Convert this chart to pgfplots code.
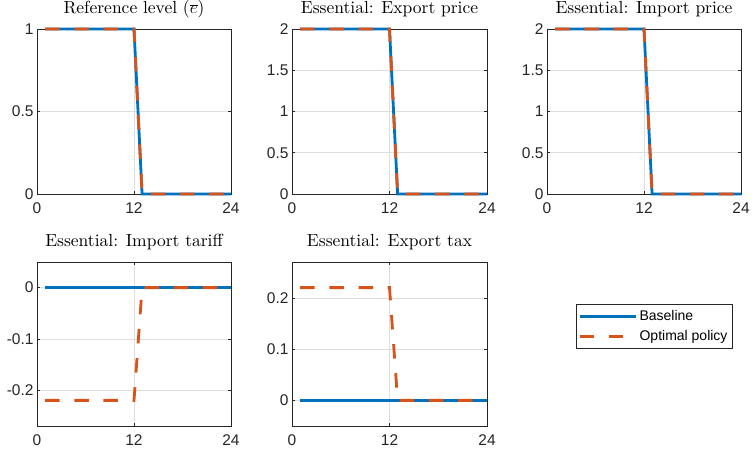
\documentclass[border=0pt]{standalone}
\usepackage{pgfplots}
\pgfplotsset{compat=1.18}
\usepackage{fontspec}
\newfontfamily\arial{Liberation Sans}
\newfontfamily\titlefont{lmroman10-regular}[Extension=.otf]
\definecolor{mblue}{RGB}{0,114,189}
\definecolor{morange}{RGB}{217,83,25}
\definecolor{maxis}{RGB}{38,38,38}
\pgfplotsset{
  mystyle/.style={
    scale only axis, width=194pt, height=165pt, anchor=south west,
    xmin=0, xmax=24, xtick={0,12,24},
    grid=major, major grid style={color=black!13, line width=0.6pt},
    axis line style={color=maxis, line width=0.7pt},
    tick style={color=maxis, line width=0.7pt},
    major tick length=3pt, tick align=inside,
    tick label style={font=\arial\fontsize{15.5}{15.5}\selectfont, color=maxis},
    xticklabel style={yshift=-5pt},
    /pgf/number format/assume math mode=true,
    title style={font=\titlefont\fontsize{17.5}{17.5}\selectfont, at={(0.5,1)}, anchor=base, yshift=9pt},
    clip=false,
    legend image code/.code={\draw[#1] (0pt,0pt) -- (56pt,0pt);},
  },
  base/.style={mblue, line width=2.8pt},
  opt/.style={morange, line width=2.8pt, dash pattern=on 14.5pt off 14.7pt},
}
\begin{document}
\begin{tikzpicture}[x=1pt,y=1pt]
\useasboundingbox (0,0) rectangle (752,450);
% Top left
\begin{axis}[mystyle, at={(37pt,256pt)}, ymin=0, ymax=1, ytick={0,0.5,1},
  title={Reference level ($\overline{e}$)}]
\addplot[base] coordinates {(1,1)(2,1)(3,1)(4,1)(5,1)(6,1)(7,1)(8,1)(9,1)(10,1)(11,1)(12,1)(13,0)(14,0)(15,0)(16,0)(17,0)(18,0)(19,0)(20,0)(21,0)(22,0)(23,0)(24,0)};
\addplot[opt] coordinates {(1,1)(2,1)(3,1)(4,1)(5,1)(6,1)(7,1)(8,1)(9,1)(10,1)(11,1)(12,1)(13,0)(14,0)(15,0)(16,0)(17,0)(18,0)(19,0)(20,0)(21,0)(22,0)(23,0)(24,0)};
\end{axis}
% Top middle
\begin{axis}[mystyle, at={(292pt,256pt)}, width=195pt, ymin=0, ymax=2, ytick={0,0.5,1,1.5,2},
  title={Essential: Export price}]
\addplot[base] coordinates {(1,2)(2,2)(3,2)(4,2)(5,2)(6,2)(7,2)(8,2)(9,2)(10,2)(11,2)(12,2)(13,0)(14,0)(15,0)(16,0)(17,0)(18,0)(19,0)(20,0)(21,0)(22,0)(23,0)(24,0)};
\addplot[opt] coordinates {(1,2)(2,2)(3,2)(4,2)(5,2)(6,2)(7,2)(8,2)(9,2)(10,2)(11,2)(12,2)(13,0)(14,0)(15,0)(16,0)(17,0)(18,0)(19,0)(20,0)(21,0)(22,0)(23,0)(24,0)};
\end{axis}
% Top right
\begin{axis}[mystyle, at={(547pt,256pt)}, ymin=0, ymax=2, ytick={0,0.5,1,1.5,2},
  title={Essential: Import price}]
\addplot[base] coordinates {(1,2)(2,2)(3,2)(4,2)(5,2)(6,2)(7,2)(8,2)(9,2)(10,2)(11,2)(12,2)(13,0)(14,0)(15,0)(16,0)(17,0)(18,0)(19,0)(20,0)(21,0)(22,0)(23,0)(24,0)};
\addplot[opt] coordinates {(1,2)(2,2)(3,2)(4,2)(5,2)(6,2)(7,2)(8,2)(9,2)(10,2)(11,2)(12,2)(13,0)(14,0)(15,0)(16,0)(17,0)(18,0)(19,0)(20,0)(21,0)(22,0)(23,0)(24,0)};
\end{axis}
% Bottom left
\begin{axis}[mystyle, at={(37pt,24pt)}, height=164pt, ymin=-0.27, ymax=0.05, ytick={-0.2,-0.1,0},
  title={Essential: Import tariff}]
\addplot[base] coordinates {(1,0)(2,0)(3,0)(4,0)(5,0)(6,0)(7,0)(8,0)(9,0)(10,0)(11,0)(12,0)(13,0)(14,0)(15,0)(16,0)(17,0)(18,0)(19,0)(20,0)(21,0)(22,0)(23,0)(24,0)};
\addplot[opt] coordinates {(1,-0.22)(2,-0.22)(3,-0.22)(4,-0.22)(5,-0.22)(6,-0.22)(7,-0.22)(8,-0.22)(9,-0.22)(10,-0.22)(11,-0.22)(12,-0.22)(13,0)(14,0)(15,0)(16,0)(17,0)(18,0)(19,0)(20,0)(21,0)(22,0)(23,0)(24,0)};
\end{axis}
% Bottom middle
\begin{axis}[mystyle, at={(292pt,24pt)}, width=195pt, height=164pt, ymin=-0.05, ymax=0.27, ytick={0,0.1,0.2},
  title={Essential: Export tax},
  legend style={at={(1.456,0.744)}, anchor=north west, draw=maxis, line width=0.7pt, fill=white,
    font=\arial\fontsize{14}{14}\selectfont, inner xsep=2pt, inner ysep=4pt, row sep=3pt,
    nodes={inner sep=2.5pt}},
  legend cell align=left]
\addplot[base] coordinates {(1,0)(2,0)(3,0)(4,0)(5,0)(6,0)(7,0)(8,0)(9,0)(10,0)(11,0)(12,0)(13,0)(14,0)(15,0)(16,0)(17,0)(18,0)(19,0)(20,0)(21,0)(22,0)(23,0)(24,0)};
\addlegendentry{Baseline}
\addplot[opt] coordinates {(1,0.22)(2,0.22)(3,0.22)(4,0.22)(5,0.22)(6,0.22)(7,0.22)(8,0.22)(9,0.22)(10,0.22)(11,0.22)(12,0.22)(13,0)(14,0)(15,0)(16,0)(17,0)(18,0)(19,0)(20,0)(21,0)(22,0)(23,0)(24,0)};
\addlegendentry{Optimal policy}
\end{axis}
\end{tikzpicture}
\end{document}
